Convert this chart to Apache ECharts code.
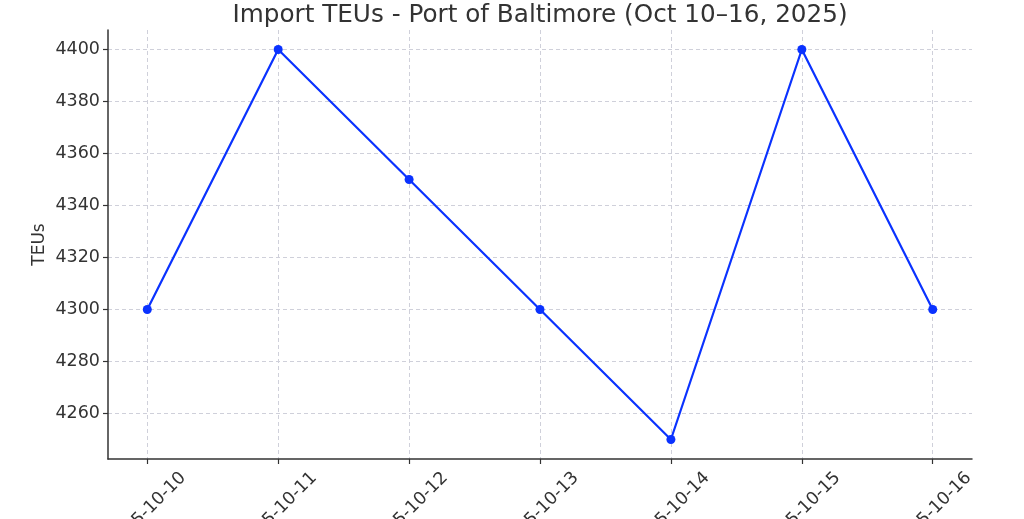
<!DOCTYPE html>
<html>
<head>
<meta charset="utf-8">
<script src="https://cdn.jsdelivr.net/npm/echarts@6/dist/echarts.min.js"></script>
<style>html,body{margin:0;padding:0;background:#fff}#c{width:1024px;height:519px}</style>
</head>
<body>
<div id="c"></div>
<script>
const categories = ["2025-10-10","2025-10-11","2025-10-12","2025-10-13","2025-10-14","2025-10-15","2025-10-16"];
const teus = [4300, 4400, 4350, 4300, 4250, 4400, 4300];
const yTicks = [4260, 4280, 4300, 4320, 4340, 4360, 4380, 4400];
const xTicks = categories.map((_, i) => i);

const chart = echarts.init(document.getElementById('c'), null, {renderer: 'canvas'});
const font = 'DejaVu Sans';
chart.setOption({
  animation: false,
  title: {
    text: 'Import TEUs - Port of Baltimore (Oct 10\u201316, 2025)',
    left: 540, textAlign: 'center', top: 3, padding: 0,
    textStyle: {fontFamily: font, fontSize: 24.7, fontWeight: 'normal', color: '#333'}
  },
  grid: {left: 108, right: 52, top: 30, bottom: 60, containLabel: false, outerBoundsMode: 'none'},
  xAxis: {
    type: 'value', min: -0.3, max: 6.3,
    axisLine: {show: true, onZero: false, lineStyle: {color: '#333', width: 1.5}},
    axisTick: {show: true, customValues: xTicks, length: 5, lineStyle: {color: '#333', width: 1.2}},
    axisLabel: {customValues: xTicks, rotate: 45, align: 'center', verticalAlign: 'middle',
      fontFamily: font, fontSize: 17.5, color: '#333', margin: 52,
      formatter: v => categories[Math.round(v)] || ''},
    splitLine: {show: true, lineStyle: {color: '#cfd0da', type: [4, 3], width: 1}}
  },
  yAxis: {
    type: 'value', min: 4242.5, max: 4407.5,
    name: 'TEUs', nameLocation: 'middle', nameGap: 60, nameMoveOverlap: false,
    nameTextStyle: {fontFamily: font, fontSize: 17, color: '#333'},
    axisLine: {show: true, onZero: false, lineStyle: {color: '#333', width: 1.5}},
    axisTick: {show: true, customValues: yTicks, length: 5, lineStyle: {color: '#333', width: 1.2}},
    axisLabel: {customValues: yTicks, fontFamily: font, fontSize: 17.5, color: '#333', margin: 8,
      formatter: v => String(v)},
    splitLine: {show: true, lineStyle: {color: '#cfd0da', type: [4, 3], width: 1}}
  },
  series: [{
    type: 'line',
    data: teus.map((v, i) => [i, v]),
    symbol: 'circle', symbolSize: 9,
    lineStyle: {color: '#0a32ff', width: 2.2},
    itemStyle: {color: '#0a32ff'}
  }]
});
</script>
</body>
</html>
